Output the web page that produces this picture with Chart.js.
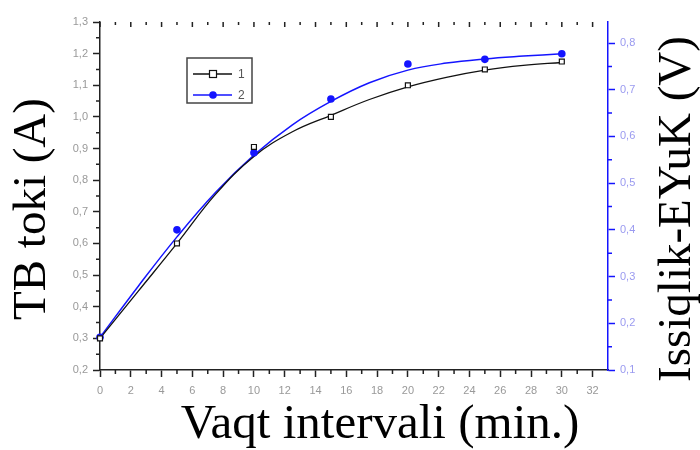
<!DOCTYPE html>
<html lang="uz">
<head>
  <meta charset="UTF-8">
  <title>TB toki va Issiqlik-EYuK</title>
  <script src="https://cdn.jsdelivr.net/npm/chart.js"></script>
  <style>
    body { margin: 0; background: #fff; }
    canvas { display: block; }
  </style>
</head>
<body>
  <canvas id="tbChart" width="700" height="450"></canvas>

  <script>
    const timeMin = [0, 5, 10, 15, 20, 25, 30];
    const currentTB = [0.30, 0.60, 0.905, 1.00, 1.10, 1.15, 1.175];
    const voltageEYuK = [0.17, 0.40, 0.565, 0.68, 0.755, 0.765, 0.777];
    const seriesNames = ['1', '2'];

    // the smooth fitted curves, also
    const fitTime = [0, 2.5, 5, 7.5, 10, 12.5, 15, 17.5, 20, 22.5, 25, 27.5, 30];
    const fitTB = [0.30, 0.45, 0.60, 0.755, 0.875, 0.953, 1.005, 1.055, 1.095, 1.125, 1.148, 1.163, 1.172];
    const fitEYuK = [0.17, 0.28, 0.385, 0.48, 0.56, 0.625, 0.675, 0.715, 0.742, 0.757, 0.766, 0.772, 0.777];

    const xTitle = 'Vaqt intervali (min.)';
    const yTitle = 'TB toki (A)';
    const y2Title = 'Issiqlik-EYuK (V)';

    const BLUE = '#1414ff';
    const AXIS = '#222';
    const tickFont = { family: '"Liberation Sans", Arial, sans-serif', size: 11 };
    const comma = v => v.toFixed(1).replace('.', ',');
    const pairs = (xs, ys) => xs.map((x, i) => ({ x: x, y: ys[i] }));

    // minor ticks, titles and the boxed legend
    const extras = {
      id: 'extras',
      afterDraw(chart) {
        const { ctx, chartArea: a, scales } = chart;
        ctx.save();
        ctx.lineWidth = 1.5;

        // minor ticks
        ctx.strokeStyle = AXIS;
        ctx.beginPath();
        for (let v = 1; v < scales.x.max; v += 2) {
          const px = scales.x.getPixelForValue(v);
          ctx.moveTo(px, a.bottom); ctx.lineTo(px, a.bottom + 4);
          ctx.moveTo(px, a.top); ctx.lineTo(px, a.top + 3);
        }
        for (let v = 0; v <= scales.x.max; v += 2) {
          const px = scales.x.getPixelForValue(v);
          ctx.moveTo(px, a.top); ctx.lineTo(px, a.top + 5);
        }
        for (let v = 0.25; v < scales.y.max; v += 0.1) {
          const py = scales.y.getPixelForValue(v);
          ctx.moveTo(a.left, py); ctx.lineTo(a.left - 4, py);
        }
        ctx.stroke();
        ctx.strokeStyle = BLUE;
        ctx.beginPath();
        for (let v = 0.15; v < scales.y2.max; v += 0.1) {
          const py = scales.y2.getPixelForValue(v);
          ctx.moveTo(a.right, py); ctx.lineTo(a.right + 4, py);
        }
        ctx.stroke();

        // axis titles
        ctx.fillStyle = '#000';
        ctx.textBaseline = 'alphabetic';
        ctx.textAlign = 'center';
        ctx.font = '49px "Liberation Serif", "Times New Roman", serif';
        ctx.fillText(xTitle, 380, 438);
        ctx.font = '47px "Liberation Serif", "Times New Roman", serif';
        ctx.save();
        ctx.translate(45, 209);
        ctx.rotate(-Math.PI / 2);
        ctx.fillText(yTitle, 0, 0);
        ctx.restore();
        ctx.save();
        ctx.translate(690, 209);
        ctx.rotate(-Math.PI / 2);
        ctx.fillText(y2Title, 0, 0);
        ctx.restore();

        // legend box
        ctx.strokeStyle = '#444';
        ctx.lineWidth = 1.5;
        ctx.strokeRect(187, 58, 65, 45);
        ctx.font = '12px "Liberation Sans", Arial, sans-serif';
        ctx.textAlign = 'left';
        ctx.textBaseline = 'middle';
        chart.data.datasets.filter(ds => ds.inLegend).forEach((ds, i) => {
          const y = 74 + i * 21;
          ctx.strokeStyle = ds.borderColor;
          ctx.lineWidth = ds.borderWidth;
          ctx.beginPath();
          ctx.moveTo(193, y); ctx.lineTo(232, y);
          ctx.stroke();
          if (ds.pointStyle === 'rect') {
            ctx.fillStyle = '#fff';
            ctx.fillRect(209.5, y - 3.5, 7, 7);
            ctx.lineWidth = 1.2;
            ctx.strokeRect(209.5, y - 3.5, 7, 7);
          } else {
            ctx.fillStyle = ds.pointBackgroundColor;
            ctx.beginPath();
            ctx.arc(213, y, 3.8, 0, Math.PI * 2);
            ctx.fill();
          }
          ctx.fillStyle = '#555';
          ctx.fillText(ds.label, 238, y + 1);
        });
        ctx.restore();
      }
    };

    new Chart(document.getElementById('tbChart'), {
      type: 'line',
      data: {
        datasets: [
          {
            label: seriesNames[0],
            inLegend: true,
            data: pairs(timeMin, currentTB),
            yAxisID: 'y',
            showLine: false,
            borderColor: '#111',
            borderWidth: 1.3,
            pointStyle: 'rect',
            pointRadius: 3.5,
            pointBorderWidth: 1.2,
            pointBorderColor: '#111',
            pointBackgroundColor: '#fff',
            clip: false
          },
          {
            label: seriesNames[1],
            inLegend: true,
            data: pairs(timeMin, voltageEYuK),
            yAxisID: 'y2',
            showLine: false,
            borderColor: BLUE,
            borderWidth: 1.5,
            pointStyle: 'circle',
            pointRadius: 3.8,
            pointBorderWidth: 0,
            pointBackgroundColor: BLUE,
            clip: false
          },
          {
            label: seriesNames[0] + ' fit',
            data: pairs(fitTime, fitTB),
            yAxisID: 'y',
            borderColor: '#111',
            borderWidth: 1.3,
            tension: 0.4,
            pointRadius: 0,
            clip: false
          },
          {
            label: seriesNames[1] + ' fit',
            data: pairs(fitTime, fitEYuK),
            yAxisID: 'y2',
            borderColor: BLUE,
            borderWidth: 1.5,
            tension: 0.4,
            pointRadius: 0,
            clip: false
          }
        ]
      },
      options: {
        responsive: false,
        animation: false,
        layout: { padding: { top: 22, left: 0, right: 0, bottom: 0 } },
        plugins: { legend: { display: false }, tooltip: { enabled: false } },
        scales: {
          x: {
            type: 'linear',
            min: 0,
            max: 33,
            afterFit: s => { s.height = 80; },
            grid: { drawOnChartArea: false, tickLength: 7, tickColor: AXIS, tickWidth: 1.5 },
            border: { color: AXIS, width: 1.5 },
            ticks: { stepSize: 2, includeBounds: false, color: '#999', font: tickFont, padding: 7, maxRotation: 0 }
          },
          y: {
            position: 'left',
            min: 0.2,
            max: 1.3,
            afterFit: s => { s.width = 100; },
            grid: { drawOnChartArea: false, tickLength: 7, tickColor: AXIS, tickWidth: 1.5 },
            border: { color: AXIS, width: 1.5 },
            ticks: { stepSize: 0.1, color: '#999', font: tickFont, padding: 5, callback: comma }
          },
          y2: {
            position: 'right',
            min: 0.1,
            max: 0.845,
            afterFit: s => { s.width = 92; },
            grid: { drawOnChartArea: false, tickLength: 7, tickColor: BLUE, tickWidth: 1.5 },
            border: { color: BLUE, width: 1.5 },
            ticks: { stepSize: 0.1, includeBounds: false, color: '#9a9af0', font: tickFont, padding: 5, callback: comma }
          }
        }
      },
      plugins: [extras]
    });
  </script>
</body>
</html>
